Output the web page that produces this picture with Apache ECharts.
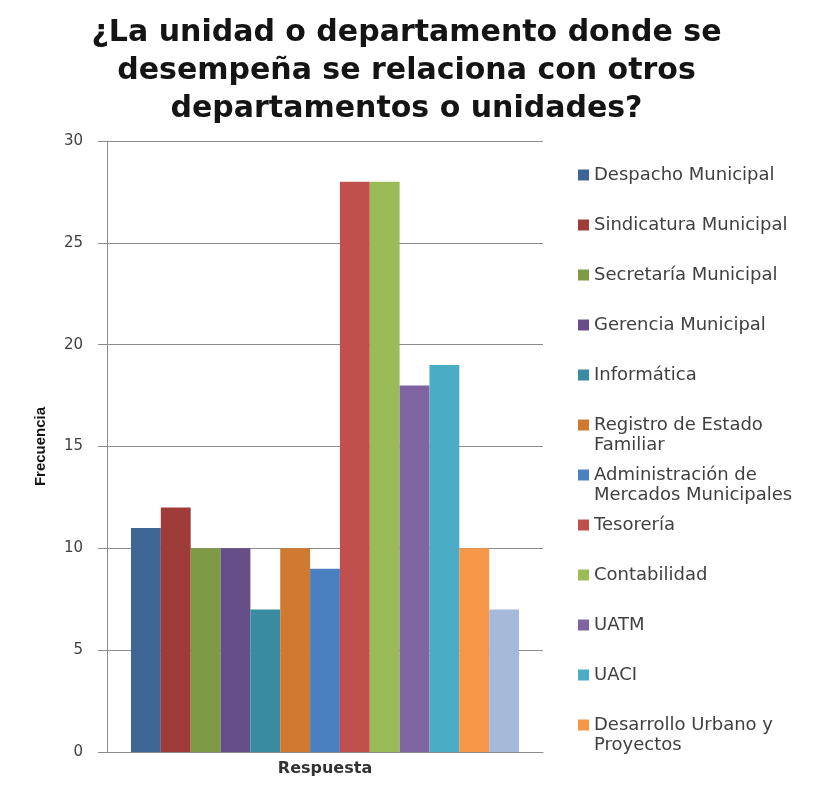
<!DOCTYPE html>
<html>
<head>
<meta charset="utf-8">
<script src="https://cdn.jsdelivr.net/npm/echarts@6/dist/echarts.min.js"></script>
<style>
  html, body { margin: 0; padding: 0; background: #fff; }
  #chart { width: 813px; height: 789px; }
</style>
</head>
<body>
<div id="chart"></div>
<script>
// Single response category, one bar per department
const categories = ['Respuesta'];

const seriesNames = [
  'Despacho Municipal',
  'Sindicatura Municipal',
  'Secretaría Municipal',
  'Gerencia Municipal',
  'Informática',
  'Registro de Estado Familiar',
  'Administración de Mercados Municipales',
  'Tesorería',
  'Contabilidad',
  'UATM',
  'UACI',
  'Desarrollo Urbano y Proyectos',
  'Otros'
];

const frequencies = [11, 12, 10, 10, 7, 10, 9, 28, 28, 18, 19, 10, 7];

// Legend entries (with the wrapped labels as shown)
const legendNames = seriesNames.slice(0, 12);
const legendLabels = [
  'Despacho Municipal',
  'Sindicatura Municipal',
  'Secretaría Municipal',
  'Gerencia Municipal',
  'Informática',
  'Registro de Estado\nFamiliar',
  'Administración de\nMercados Municipales',
  'Tesorería',
  'Contabilidad',
  'UATM',
  'UACI',
  'Desarrollo Urbano y\nProyectos'
];

const yTicks = [0, 5, 10, 15, 20, 25, 30];

const barColors = [
  '#3d6596', '#9f3b39', '#7e9a47', '#664f88', '#388ba1', '#d07a31',
  '#4a7fc0', '#c0504d', '#9bbb59', '#8064a2', '#4bacc6', '#f79646', '#a6b9da'
];

const chart = echarts.init(document.getElementById('chart'), null, { renderer: 'canvas' });

// One legend block per entry, on a fixed 50px pitch; wrapped entries keep the
// swatch beside their first line (an empty leading line balances the centring).
const LINE_H = 20;
const legends = legendNames.map((name, i) => {
  const label = legendLabels[i];
  const twoLine = label.indexOf('\n') >= 0;
  const cy = 175 + 50 * i;
  return {
    show: true,
    orient: 'vertical',
    left: 578,
    top: twoLine ? cy - 1.5 * LINE_H : cy - LINE_H / 2,
    padding: 0,
    itemWidth: 11,
    itemHeight: 11,
    itemGap: 0,
    icon: 'rect',
    selectedMode: false,
    data: [name],
    formatter: () => (twoLine ? ' \n' + label : label),
    textStyle: {
      fontFamily: 'DejaVu Sans',
      fontSize: 18,
      color: '#404040',
      lineHeight: LINE_H
    }
  };
});

const option = {
  backgroundColor: '#ffffff',
  animation: false,
  title: {
    text: '¿La unidad o departamento donde se\ndesempeña se relaciona con otros\ndepartamentos o unidades?',
    left: 'center',
    top: 9,
    textStyle: {
      fontFamily: 'DejaVu Sans',
      fontWeight: 'bold',
      fontSize: 30,
      lineHeight: 38,
      color: '#141414'
    }
  },
  legend: legends,
  grid: { left: 107, right: 270, top: 141, bottom: 37, containLabel: false },
  xAxis: {
    type: 'category',
    data: categories,
    axisLine: { show: true, lineStyle: { color: '#8c8c8c', width: 1 } },
    axisTick: { show: false },
    axisLabel: {
      fontFamily: 'DejaVu Sans',
      fontWeight: 'bold',
      fontSize: 16,
      color: '#333333',
      margin: 9
    }
  },
  yAxis: {
    type: 'value',
    min: yTicks[0],
    max: yTicks[yTicks.length - 1],
    interval: 5,
    name: 'Frecuencia',
    nameLocation: 'middle',
    nameGap: 59,
    nameRotate: 90,
    nameTextStyle: {
      fontFamily: 'Liberation Sans Narrow, Liberation Sans',
      fontWeight: 'bold',
      fontSize: 15,
      color: '#141414'
    },
    axisLine: { show: true, lineStyle: { color: '#8c8c8c', width: 1 } },
    axisTick: { show: true, inside: false, length: 9, lineStyle: { color: '#8c8c8c' } },
    axisLabel: {
      fontFamily: 'DejaVu Sans',
      fontSize: 15,
      color: '#404040',
      margin: 24
    },
    splitLine: { show: true, lineStyle: { color: '#8c8c8c', width: 1 } }
  },
  series: seriesNames.map((name, i) => ({
    name: name,
    type: 'bar',
    data: [frequencies[i]],
    barGap: '0%',
    barCategoryGap: '11%',
    itemStyle: { color: barColors[i] }
  }))
};

chart.setOption(option);
</script>
</body>
</html>
